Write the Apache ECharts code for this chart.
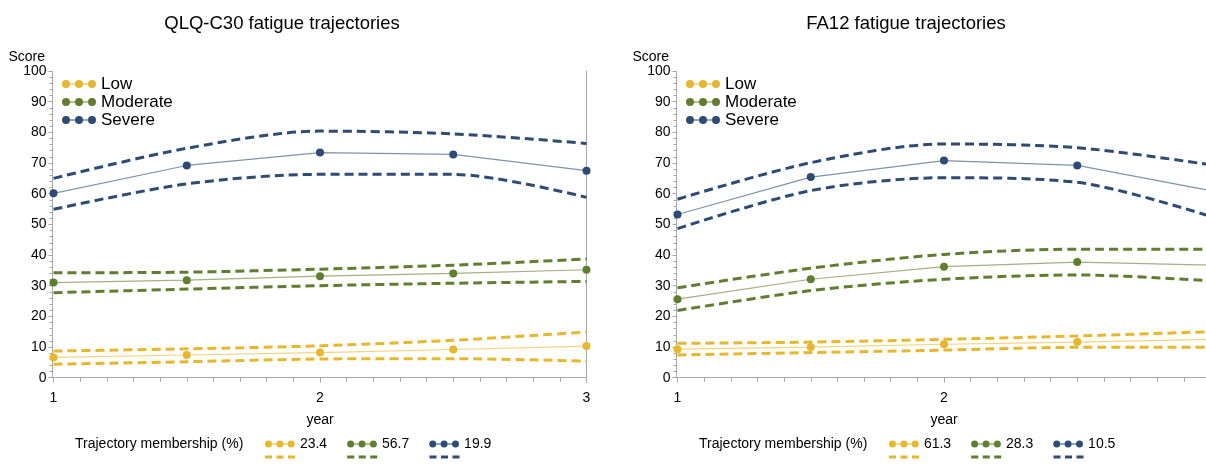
<!DOCTYPE html>
<html>
<head>
<meta charset="utf-8">
<script src="https://cdn.jsdelivr.net/npm/echarts@6/dist/echarts.min.js"></script>
<style>
  html, body { margin: 0; background: #fff; overflow: hidden; width: 1206px; height: 470px; }
  #qlq { position: absolute; left: 0; top: 0; width: 603px; height: 470px; }
  #fa12 { position: absolute; left: 624px; top: 0; width: 603px; height: 470px; }
</style>
</head>
<body>
<div id="qlq"></div>
<div id="fa12"></div>
<script>
// x positions of the estimates (years) and axis ticks
var years = [1, 1.5, 2, 2.5, 3];
var xTicks = [1, 2, 3];
var yTicks = [0, 10, 20, 30, 40, 50, 60, 70, 80, 90, 100];
var groups = ["Low", "Moderate", "Severe"];

// QLQ-C30
var qlqLowMean = [6.6, 7.4, 8.2, 9.2, 10.3];
var qlqLowUpper = [8.7, 9.4, 10.4, 12.2, 14.9];
var qlqLowLower = [4.4, 5.2, 6.1, 6.2, 5.4];
var qlqModMean = [31.0, 31.8, 33.1, 34.0, 35.2];
var qlqModUpper = [34.2, 34.4, 35.4, 36.7, 38.7];
var qlqModLower = [27.7, 28.9, 30.0, 30.8, 31.4];
var qlqSevMean = [60.1, 69.2, 73.4, 72.8, 67.5];
var qlqSevUpper = [65.0, 74.8, 80.4, 79.5, 76.4];
var qlqSevLower = [54.9, 63.2, 66.3, 66.3, 58.8];
var qlqShare = ["23.4", "56.7", "19.9"];

// FA12
var faLowMean = [9.3, 10.0, 10.9, 11.6, 12.5];
var faLowUpper = [11.2, 11.6, 12.5, 13.6, 15.0];
var faLowLower = [7.4, 8.2, 9.0, 9.9, 9.9];
var faModMean = [25.6, 32.1, 36.2, 37.7, 36.7];
var faModUpper = [29.3, 35.7, 40.2, 41.9, 41.9];
var faModLower = [21.9, 28.4, 32.1, 33.5, 31.6];
var faSevMean = [53.2, 65.4, 70.8, 69.2, 61.0];
var faSevUpper = [58.2, 70.1, 76.2, 75.0, 69.4];
var faSevLower = [48.6, 61.0, 65.2, 63.7, 52.6];
var faShare = ["61.3", "28.3", "10.5"];

var colors = ["#E8B82C", "#5F7F2E", "#2C4B77"];
var axisGray = "#a8a8a8";
var font = "Liberation Sans, Arial, sans-serif";

// three dots joined by a thin line, pieces do not overlap
var dotsIcon = "path://M0,4a4,4 0 1,0 8,0a4,4 0 1,0 -8,0M13,4a4,4 0 1,0 8,0a4,4 0 1,0 -8,0M26,4a4,4 0 1,0 8,0a4,4 0 1,0 -8,0M8,3.4h5v1.2h-5zM21,3.4h5v1.2h-5z";
var dashIcon = "path://M0,0h7v3h-7zM11.5,0h7v3h-7zM23,0h7v3h-7z";

function pairs(vals) {
  return years.map(function (x, i) { return [x, vals[i]]; });
}

// legend entries with a filled icon in the group colour
function legendItems(suffix) {
  return groups.map(function (g, i) {
    return { name: g + suffix, itemStyle: { color: colors[i], borderWidth: 0 } };
  });
}

function makeChart(id, title, means, uppers, lowers, share) {
  var myChart = echarts.init(document.getElementById(id));
  var series = [];
  groups.forEach(function (g, i) {
    [uppers[i], lowers[i]].forEach(function (band) {
      series.push({
        name: g + " CI",
        type: "line",
        color: colors[i],
        data: pairs(band),
        showSymbol: false,
        smooth: 0.3,
        lineStyle: { width: 3, type: [9, 5], color: colors[i] },
        z: 2,
      });
    });
    series.push({
      name: g,
      type: "line",
      color: colors[i],
      data: pairs(means[i]),
      symbol: "circle",
      symbolSize: 8,
      lineStyle: { width: 1.2, color: colors[i], opacity: 0.6 },
      itemStyle: { color: colors[i] },
      z: 3,
    });
  });

  var pct = function (name) {
    return share[groups.indexOf(name.replace(" CI", ""))];
  };

  var option = {
    animation: false,
    backgroundColor: "#fff",
    textStyle: { fontFamily: font },
    title: {
      text: title,
      left: 282,
      top: 14,
      padding: 0,
      textAlign: "center",
      textStyle: { fontFamily: font, fontSize: 18.5, fontWeight: "normal", color: "#000" },
    },
    grid: { left: 53.5, top: 71, width: 533, height: 306.7, outerBoundsMode: "none" },
    legend: [
      {
        // groups in the plot corner
        data: legendItems(""),
        orient: "vertical",
        left: 62,
        top: 75,
        padding: 0,
        icon: dotsIcon,
        itemWidth: 34,
        itemHeight: 8,
        itemGap: 0,
        selectedMode: false,
        itemStyle: { borderWidth: 0 },
        textStyle: { fontFamily: font, fontSize: 17, lineHeight: 18, color: "#000" },
      },
      {
        data: legendItems(""),
        left: 265,
        top: 437,
        padding: 0,
        icon: dotsIcon,
        itemWidth: 30,
        itemHeight: 7,
        itemGap: 20,
        selectedMode: false,
        itemStyle: { borderWidth: 0 },
        formatter: pct,
        textStyle: { fontFamily: font, fontSize: 14, color: "#000" },
      },
      {
        data: legendItems(" CI"),
        left: 265,
        top: 450,
        padding: 0,
        icon: dashIcon,
        itemWidth: 30,
        itemHeight: 3,
        itemGap: 20,
        selectedMode: false,
        itemStyle: { borderWidth: 0 },
        formatter: pct,
        textStyle: { fontFamily: font, fontSize: 14, color: "rgba(0,0,0,0)" },
      },
    ],
    graphic: [
      {
        type: "text",
        x: 45,
        y: 57,
        style: { text: "Score", fontFamily: font, fontSize: 14, fill: "#000", align: "right", verticalAlign: "middle" },
      },
      {
        type: "text",
        x: 75,
        y: 444,
        style: { text: "Trajectory membership (%)", fontFamily: font, fontSize: 14, fill: "#000", align: "left", verticalAlign: "middle" },
      },
    ],
    xAxis: {
      type: "value",
      min: xTicks[0],
      max: xTicks[xTicks.length - 1],
      interval: 1,
      offset: 3,
      name: "year",
      nameLocation: "middle",
      nameGap: 32,
      nameTextStyle: { fontFamily: font, fontSize: 14, color: "#000" },
      axisLine: { lineStyle: { color: axisGray } },
      axisTick: { length: 5, lineStyle: { color: axisGray } },
      minorTick: { show: true, splitNumber: 10, length: 4, lineStyle: { color: axisGray } },
      axisLabel: { margin: 10, fontFamily: font, fontSize: 14, color: "#000" },
      splitLine: { show: false },
    },
    yAxis: [
      {
        type: "value",
        min: yTicks[0],
        max: yTicks[yTicks.length - 1],
        interval: 10,
        offset: 1,
        axisLine: { show: true, lineStyle: { color: axisGray } },
        axisTick: { show: true, length: 4, lineStyle: { color: axisGray } },
        minorTick: { show: true, splitNumber: 5, length: 3, lineStyle: { color: axisGray } },
        axisLabel: { margin: 6, fontFamily: font, fontSize: 14, color: "#000" },
        splitLine: { show: false },
      },
      {
        // right frame line
        type: "value",
        position: "right",
        min: yTicks[0],
        max: yTicks[yTicks.length - 1],
        axisLine: { show: true, lineStyle: { color: axisGray } },
        axisTick: { show: false },
        axisLabel: { show: false },
        splitLine: { show: false },
      },
    ],
    series: series,
  };
  myChart.setOption(option);
  return myChart;
}

makeChart("qlq", "QLQ-C30 fatigue trajectories",
  [qlqLowMean, qlqModMean, qlqSevMean],
  [qlqLowUpper, qlqModUpper, qlqSevUpper],
  [qlqLowLower, qlqModLower, qlqSevLower],
  qlqShare);

makeChart("fa12", "FA12 fatigue trajectories",
  [faLowMean, faModMean, faSevMean],
  [faLowUpper, faModUpper, faSevUpper],
  [faLowLower, faModLower, faSevLower],
  faShare);
</script>
</body>
</html>
